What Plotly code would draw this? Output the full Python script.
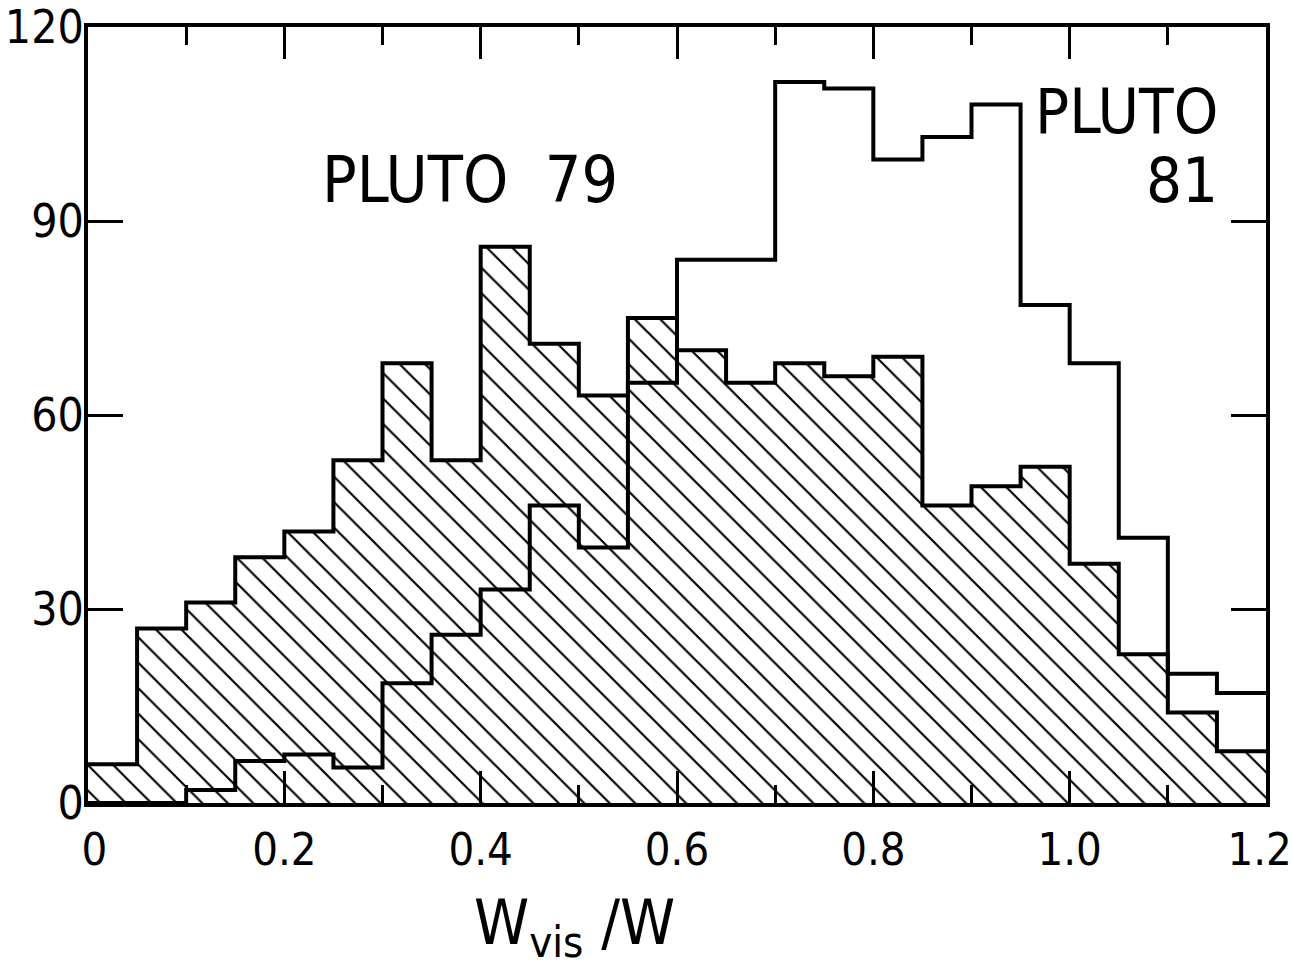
import plotly.graph_objects as go

# Bin edges of W_vis / W (bin width 0.05)
bin_edges = [0.0, 0.05, 0.10, 0.15, 0.20, 0.25, 0.30, 0.35, 0.40, 0.45, 0.50, 0.55,
             0.60, 0.65, 0.70, 0.75, 0.80, 0.85, 0.90, 0.95, 1.00, 1.05, 1.10, 1.15, 1.20]

# Counts per bin
pluto79 = [6, 27, 31, 38, 42, 53, 68, 53, 86, 71, 63, 75,
           70, 65, 68, 66, 69, 46, 49, 52, 37, 23, 14, 8]
pluto81 = [0, 0, 2, 6.5, 7.5, 5.5, 18.5, 26, 33, 46, 39.5, 65,
           84, 84, 111.5, 110.5, 99.5, 103, 108, 77, 68, 41, 20, 17]

NB = "\u00a0"
x_tickvals = [0, 0.2, 0.4, 0.6, 0.8, 1.0, 1.2]
x_ticktext = [NB + "0", "0.2", "0.4", "0.6", "0.8", "1.0", "1.2" + NB]
y_tickvals = [0, 30, 60, 90, 120]
y_ticktext = ["0", "30", "60", "90", "120"]

FONT = "Liberation Sans Narrow, DejaVu Sans Condensed, Liberation Sans, Arial, sans-serif"

fig = go.Figure()

# PLUTO 79: hatched histogram
fig.add_trace(go.Scatter(
    x=bin_edges, y=pluto79 + [pluto79[-1]],
    mode="lines",
    line=dict(color="black", width=4, shape="hv"),
    fill="tozeroy",
    fillcolor="white",
    fillpattern=dict(shape="\\", size=18, solidity=0.12,
                     fgcolor="black", bgcolor="white", fillmode="replace"),
    showlegend=False, hoverinfo="skip",
))

# PLUTO 81: open histogram
fig.add_trace(go.Scatter(
    x=bin_edges, y=pluto81 + [pluto81[-1]],
    mode="lines",
    line=dict(color="black", width=4, shape="hv"),
    showlegend=False, hoverinfo="skip",
))

fig.update_layout(
    width=1293, height=963,
    margin=dict(l=88, r=27, t=27, b=160, autoexpand=False),
    paper_bgcolor="white", plot_bgcolor="white",
    font=dict(family=FONT, color="black"),
    xaxis=dict(
        range=[0, 1.2], showgrid=False, zeroline=False, automargin=False,
        showline=True, linecolor="black", linewidth=4, mirror="ticks",
        tickvals=x_tickvals, ticktext=x_ticktext,
        ticks="inside", ticklen=32, tickwidth=3, tickcolor="black",
        minor=dict(dtick=0.1, tick0=0, ticks="inside", ticklen=18,
                   tickwidth=2.5, tickcolor="black", showgrid=False),
        tickfont=dict(size=45, family=FONT),
        ticklabelstandoff=4,
        ticklabeloverflow="allow",
    ),
    yaxis=dict(
        range=[0, 120], showgrid=False, zeroline=False, automargin=False,
        showline=True, linecolor="black", linewidth=4, mirror="ticks",
        tickvals=y_tickvals, ticktext=y_ticktext,
        ticks="inside", ticklen=35, tickwidth=3, tickcolor="black",
        tickfont=dict(size=46, family=FONT),
        ticklabelstandoff=-9,
        ticklabeloverflow="allow",
    ),
    annotations=[
        dict(text="PLUTO" + NB * 2 + "79", x=0.389, y=96.3, xref="x", yref="y",
             showarrow=False, font=dict(size=64, family=FONT),
             xanchor="center", yanchor="middle"),
        dict(text="PLUTO", x=1.153, y=107.0, xref="x", yref="y",
             showarrow=False, font=dict(size=63, family=FONT),
             xanchor="right", yanchor="middle"),
        dict(text="81", x=1.153, y=96.3, xref="x", yref="y",
             showarrow=False, font=dict(size=63, family=FONT),
             xanchor="right", yanchor="middle"),
        dict(text="W<sub>vis</sub> /W", x=0.413, y=-0.104, xref="paper", yref="paper",
             showarrow=False, font=dict(size=62, family=FONT),
             xanchor="center", yanchor="top"),
    ],
)

fig.write_html("out.html")
